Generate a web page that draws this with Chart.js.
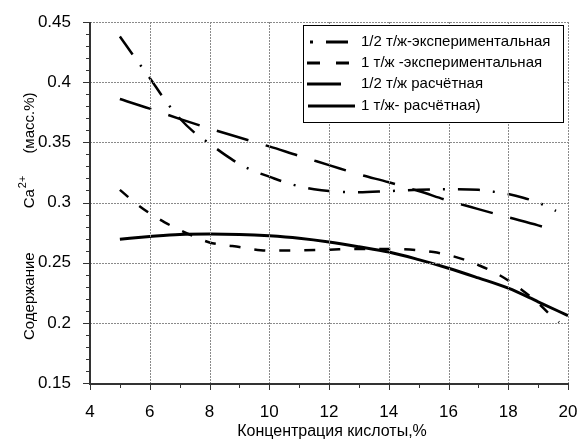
<!DOCTYPE html>
<html>
<head>
<meta charset="utf-8">
<script src="https://cdn.jsdelivr.net/npm/chart.js@4/dist/chart.umd.min.js"></script>
<style>
  html, body { margin: 0; padding: 0; background: #fff; }
  #wrap { width: 582px; height: 442px; }
</style>
</head>
<body>
<div id="wrap"><canvas id="c" width="582" height="442"></canvas></div>
<script>
// 1/2 т/ж - experimental (dash-dot)
const halfExpX = [5, 5.5, 6, 6.5, 7, 7.5, 8, 8.5, 9, 9.5, 10, 10.5, 11, 11.5, 12, 13, 14, 15, 16, 17, 17.5, 18, 18.5, 19, 19.6];
const halfExpY = [0.438, 0.4205, 0.4035, 0.3855, 0.370, 0.358, 0.349, 0.340, 0.332, 0.326, 0.3215, 0.317, 0.3135, 0.311, 0.3095, 0.3085, 0.3095, 0.3105, 0.311, 0.3105, 0.309, 0.307, 0.304, 0.300, 0.293];

// 1 т/ж - experimental (dashed)
const oneExpX = [5, 5.5, 6, 6.5, 7, 7.5, 8, 8.5, 9, 9.5, 10, 11, 12, 13, 14, 15, 15.5, 16, 16.5, 17, 17.5, 18, 18.5, 19, 19.35, 19.7];
const oneExpY = [0.3105, 0.300, 0.291, 0.2835, 0.2772, 0.2716, 0.2668, 0.2647, 0.263, 0.261, 0.260, 0.2602, 0.2608, 0.2614, 0.2614, 0.2603, 0.2588, 0.2563, 0.2527, 0.248, 0.2425, 0.2352, 0.2265, 0.2165, 0.208, 0.2005];

// 1/2 т/ж - calculated (long dash)
const halfCalcX = [5, 6, 7, 8, 9, 10, 11, 12, 13, 14, 15, 16, 17, 18, 19, 19.6];
const halfCalcY = [0.386, 0.378, 0.3695, 0.3615, 0.354, 0.3466, 0.3387, 0.3311, 0.3234, 0.3168, 0.3095, 0.3015, 0.2945, 0.2877, 0.281, 0.2765];

// 1 т/ж - calculated (solid)
const oneCalcX = [5, 6, 7, 8, 9, 10, 11, 12, 13, 14, 15, 16, 17, 18, 19, 20];
const oneCalcY = [0.2695, 0.2717, 0.2735, 0.2739, 0.2735, 0.2723, 0.2703, 0.2672, 0.2632, 0.2588, 0.2525, 0.2454, 0.2373, 0.2288, 0.2175, 0.206];

const seriesLabels = [
  "1/2 т/ж-экспериментальная",
  "1 т/ж -экспериментальная",
  "1/2 т/ж расчётная",
  "1 т/ж- расчётная)"
];

const xTicks = [4, 6, 8, 10, 12, 14, 16, 18, 20];
const yTicks = [0.15, 0.2, 0.25, 0.3, 0.35, 0.4, 0.45];

const xTitle = "Концентрация кислоты,%";
const yTitleParts = ["Содержание", "Ca", "2+", "(масс.%)"];

const FONT = "'Liberation Sans', Arial, sans-serif";

function pts(xs, ys) {
  return xs.map((x, i) => ({ x: x, y: ys[i] }));
}

function lineSet(label, xs, ys, dash, width) {
  return {
    label: label,
    data: pts(xs, ys),
    borderColor: "#000",
    borderWidth: width,
    borderDash: dash,
    pointRadius: 0,
    fill: false,
    tension: 0.4,
    cubicInterpolationMode: "monotone"
  };
}

const decorPlugin = {
  id: "decor",
  afterDraw(chart) {
    const { ctx, chartArea, scales } = chart;
    const x = scales.x, y = scales.y;
    const L = Math.round(chartArea.left), B = Math.round(chartArea.bottom);
    const T = Math.round(chartArea.top), R = Math.round(chartArea.right);
    ctx.save();

    // grid: short gray dashes (2 on, 1 off)
    ctx.fillStyle = "#8a8a8a";
    xTicks.forEach((v) => {
      const px = Math.round(x.getPixelForValue(v));
      for (let py = T; py < B; py += 3) ctx.fillRect(px, py, 1, 2);
    });
    yTicks.forEach((v) => {
      const py = Math.round(y.getPixelForValue(v));
      for (let px = L; px < R; px += 3) ctx.fillRect(px, py, 2, 1);
    });

    // axis lines
    ctx.fillStyle = "#333";
    ctx.fillRect(L - 1, T, 2, B - T + 1);
    ctx.fillRect(L - 1, B, R - L + 2, 2);

    // ticks (major + minor, outward)
    for (let i = 0; i <= 30; i++) {
      const py = Math.round(y.getPixelForValue(0.15 + i * 0.01));
      const len = i % 5 === 0 ? 6 : 3;
      ctx.fillRect(L - 1 - len, py, len, 1);
    }
    for (let v = 4; v <= 20; v++) {
      const px = Math.round(x.getPixelForValue(v));
      const len = v % 2 === 0 ? 5 : 3;
      ctx.fillRect(px, B + 2, 1, len);
    }

    // x title
    ctx.fillStyle = "#000";
    ctx.font = "16px " + FONT;
    ctx.textAlign = "center";
    ctx.textBaseline = "middle";
    ctx.fillText(xTitle, (chartArea.left + chartArea.right) / 2 + 3, 432);

    // y title (rotated, with superscript)
    ctx.translate(30, 340);
    ctx.rotate(-Math.PI / 2);
    ctx.textAlign = "left";
    ctx.textBaseline = "middle";
    ctx.font = "15px " + FONT;
    let u = 0;
    ctx.fillText(yTitleParts[0], u, 0);
    u += ctx.measureText(yTitleParts[0]).width + 44;
    ctx.fillText(yTitleParts[1], u, 0);
    u += ctx.measureText(yTitleParts[1]).width + 1;
    ctx.font = "11px " + FONT;
    ctx.fillText(yTitleParts[2], u, -7);
    u += ctx.measureText(yTitleParts[2]).width + 22;
    ctx.font = "15px " + FONT;
    ctx.fillText(yTitleParts[3], u, 0);
    ctx.restore();

    // legend box
    ctx.save();
    const bx = 303, by = 25, bw = 260, bh = 97;
    ctx.fillStyle = "#fff";
    ctx.fillRect(bx, by, bw, bh);
    ctx.fillStyle = "#000";
    ctx.fillRect(bx, by, bw, 1);
    ctx.fillRect(bx, by + bh, bw + 1, 1);
    ctx.fillRect(bx, by, 1, bh);
    ctx.fillRect(bx + bw, by, 1, bh);
    const rows = [42, 63, 84, 106];
    const seg = (x0, x1, yy) => ctx.fillRect(x0, yy - 1.5, x1 - x0, 3);
    seg(310, 313, rows[0]); seg(326, 348, rows[0]);
    seg(307, 320, rows[1]); seg(336, 349, rows[1]);
    seg(307, 341, rows[2]);
    seg(308, 355, rows[3]);
    ctx.font = "15px " + FONT;
    ctx.textAlign = "left";
    ctx.textBaseline = "middle";
    seriesLabels.forEach((t, i) => ctx.fillText(t, 361, rows[i]));
    ctx.restore();
  }
};

new Chart(document.getElementById("c"), {
  type: "line",
  data: {
    datasets: [
      lineSet(seriesLabels[0], halfExpX, halfExpY, [22, 13, 2, 13], 2.5),
      lineSet(seriesLabels[1], oneExpX, oneExpY, [11, 14], 2.5),
      lineSet(seriesLabels[2], halfCalcX, halfCalcY, [33, 18], 2.5),
      lineSet(seriesLabels[3], oneCalcX, oneCalcY, [], 3)
    ]
  },
  plugins: [decorPlugin],
  options: {
    responsive: false,
    animation: false,
    events: [],
    layout: { padding: { top: 22, right: 14, left: 0, bottom: 0 } },
    plugins: {
      legend: { display: false },
      tooltip: { enabled: false }
    },
    scales: {
      x: {
        type: "linear",
        min: 4,
        max: 20,
        afterFit(scale) {
          scale.height = 59;
          scale.paddingLeft = 0;
          scale.paddingRight = 0;
        },
        ticks: {
          stepSize: 2,
          color: "#000",
          padding: 11,
          font: { family: FONT, size: 17 }
        },
        grid: { display: false },
        border: { display: false }
      },
      y: {
        type: "linear",
        min: 0.15,
        max: 0.45,
        afterFit(scale) {
          scale.width = 90;
          scale.paddingTop = 0;
          scale.paddingBottom = 0;
        },
        ticks: {
          stepSize: 0.05,
          color: "#000",
          padding: 11,
          font: { family: FONT, size: 17 },
          callback: (v) => String(Number(v.toFixed(2)))
        },
        grid: { display: false },
        border: { display: false }
      }
    }
  }
});
</script>
</body>
</html>
